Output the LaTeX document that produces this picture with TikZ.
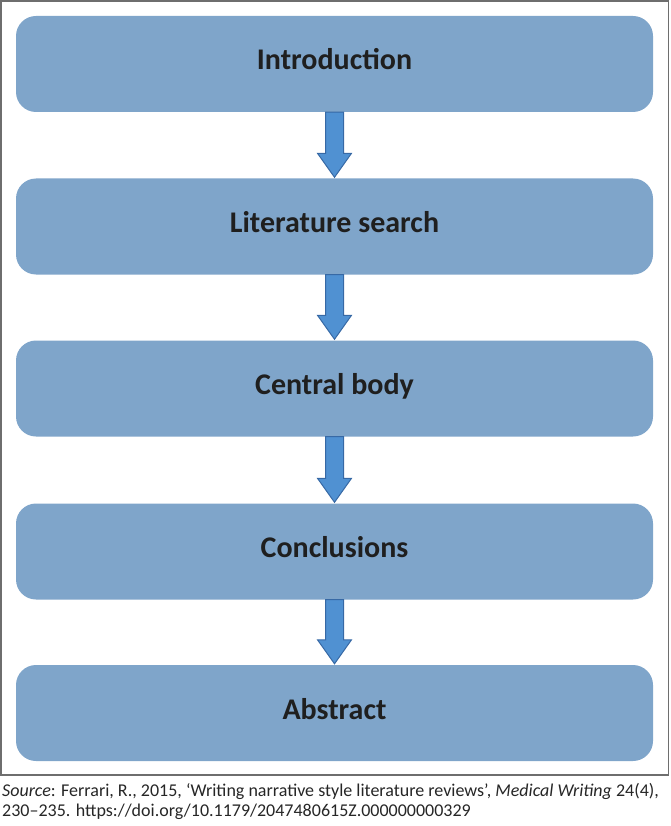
\documentclass[tikz,border=0pt]{standalone}
\usepackage{fontspec}
\setmainfont{Carlito}
\usetikzlibrary{calc}
\definecolor{boxfill}{RGB}{127,165,202}
\definecolor{arrfill}{RGB}{80,145,210}
\definecolor{arrline}{RGB}{55,105,165}
\definecolor{framecol}{RGB}{110,110,110}
\begin{document}
\begin{tikzpicture}[x=1pt,y=-1pt,
  stage/.style={fill=boxfill, rounded corners=20pt, minimum width=637pt, minimum height=96pt,
    inner sep=0pt, text height=21pt, text depth=9pt,
    font=\fontsize{30}{34}\selectfont\bfseries, text=black!88},
  flowarrow/.style={fill=arrfill, draw=arrline, line width=1pt, line join=miter}]
\useasboundingbox (0,0) rectangle (670,826);
\draw[framecol, line width=1.5pt] (1,1) rectangle (668.5,775);
\node[stage] (b1) at (334.5,64) {Introduction};
\node[stage] (b2) at (334.5,226.5) {Literature search};
\node[stage] (b3) at (334.5,388.5) {Central body};
\node[stage] (b4) at (334.5,551.5) {Conclusions};
\node[stage] (b5) at (334.5,713) {Abstract};
\foreach \a/\b in {b1/b2,b2/b3,b3/b4,b4/b5}{
  \draw[flowarrow] ($(\a.south)+(-9,0)$) -- ($(\a.south)+(9,0)$) -- ($(\b.north)+(9,-25)$)
    -- ($(\b.north)+(17,-25)$) -- ($(\b.north)+(0,-1)$) -- ($(\b.north)+(-17,-25)$)
    -- ($(\b.north)+(-9,-25)$) -- cycle;
}
\node[anchor=north west, inner sep=0pt, align=left, font=\fontsize{18}{20}\selectfont, text=black!85] (src) at (2,783.5)
  {\textit{Source}: Ferrari, R., 2015, ‘Writing narrative style literature reviews’, \textit{Medical Writing} 24(4),\\
   230–235. https://doi.org/10.1179/2047480615Z.000000000329};
\end{tikzpicture}
\end{document}
